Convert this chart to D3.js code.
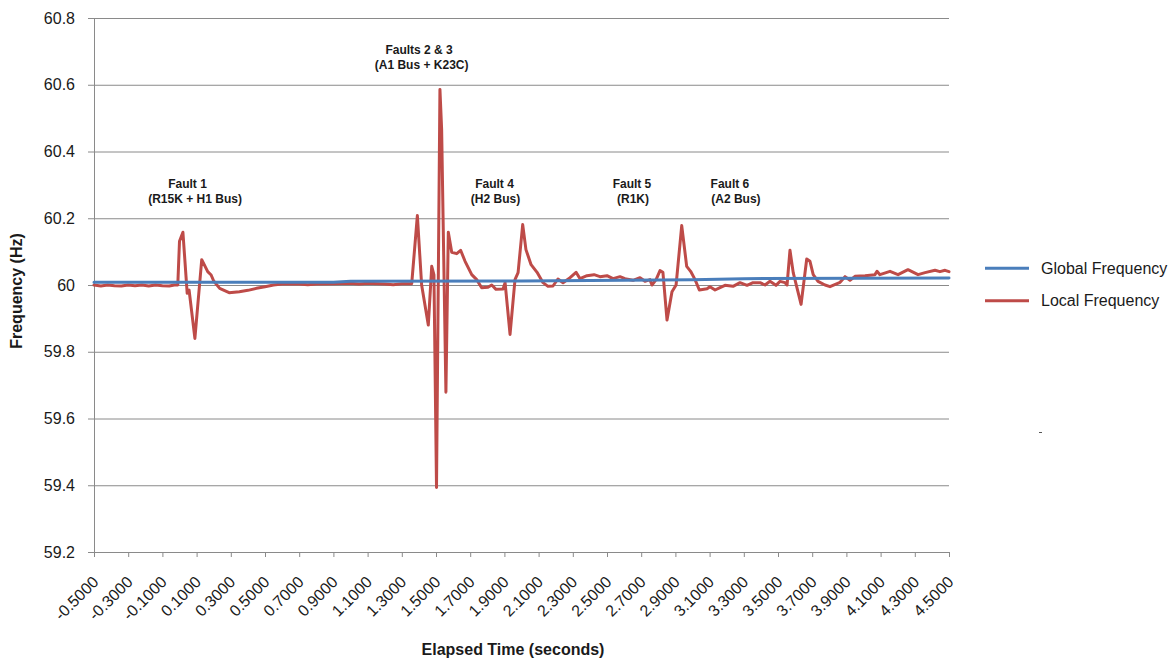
<!DOCTYPE html>
<html>
<head>
<meta charset="utf-8">
<script src="https://cdn.jsdelivr.net/npm/d3@7"></script>
<style>
  body { margin: 0; background: #fff; }
  svg { display: block; font-family: "Liberation Sans", Arial, sans-serif; }
</style>
</head>
<body>
<svg id="chart" width="1170" height="660"></svg>
<script>
// ---------------- DATA ----------------
const xTickLabels = ["-0.5000","-0.3000","-0.1000","0.1000","0.3000","0.5000","0.7000","0.9000","1.1000","1.3000","1.5000","1.7000","1.9000","2.1000","2.3000","2.5000","2.7000","2.9000","3.1000","3.3000","3.5000","3.7000","3.9000","4.1000","4.3000","4.5000"];
const yTickLabels = ["59.2","59.4","59.6","59.8","60","60.2","60.4","60.6","60.8"];

const globalTimes = [-0.5, 0.9, 1.0, 2.0, 2.2, 3.0, 3.3, 4.0, 4.5];
const globalFreq  = [60.008, 60.008, 60.011, 60.012, 60.013, 60.016, 60.019, 60.020, 60.021];

const localTimes = [-0.50,-0.46,-0.42,-0.38,-0.34,-0.30,-0.26,-0.22,-0.18,-0.14,-0.10,-0.06,-0.03,-0.01,
  0.00,0.02,0.045,0.056,0.09,0.13,0.165,0.185,0.20,0.235,0.29,0.35,0.40,0.45,0.50,0.55,0.60,0.70,0.75,0.80,0.90,
  1.00,1.05,1.10,1.20,1.25,1.30,1.358,1.391,1.416,1.455,1.475,1.488,1.503,1.523,1.533,1.558,1.572,1.592,1.621,1.644,
  1.670,1.709,1.738,1.767,1.804,1.826,1.851,1.892,1.904,1.933,1.962,1.980,2.007,2.026,2.056,2.091,2.126,2.155,2.184,
  2.213,2.243,2.284,2.319,2.342,2.383,2.424,2.459,2.500,2.535,2.576,2.605,2.652,2.693,2.722,2.751,2.763,2.787,2.810,
  2.827,2.851,2.880,2.904,2.937,2.966,2.989,3.015,3.040,3.085,3.102,3.132,3.161,3.190,3.237,3.278,3.319,3.354,3.395,
  3.424,3.453,3.488,3.512,3.541,3.553,3.570,3.589,3.635,3.668,3.687,3.706,3.734,3.775,3.804,3.863,3.892,3.921,3.950,
  4.009,4.067,4.079,4.096,4.155,4.202,4.260,4.319,4.360,4.418,4.447,4.477,4.500];
const localFreq = [60.000,59.997,60.000,59.998,59.997,60.000,59.998,60.000,59.997,60.000,59.998,59.997,60.000,60.000,
  60.131,60.158,59.975,59.985,59.840,60.076,60.040,60.030,60.012,59.990,59.977,59.980,59.984,59.990,59.995,60.000,60.003,60.003,60.001,60.003,60.004,
  60.005,60.003,60.005,60.003,60.001,60.004,60.004,60.208,60.000,59.880,60.056,60.030,59.393,60.586,60.466,59.679,60.158,60.098,60.094,60.104,
  60.071,60.031,60.016,59.992,59.993,60.000,59.987,59.988,60.007,59.852,60.016,60.037,60.181,60.106,60.061,60.038,60.007,59.996,59.997,
  60.018,60.007,60.022,60.038,60.019,60.028,60.031,60.025,60.028,60.019,60.025,60.019,60.014,60.022,60.011,60.016,60.000,60.016,60.043,
  60.038,59.895,59.980,60.000,60.178,60.056,60.041,60.016,59.985,59.989,59.995,59.985,59.992,59.999,59.996,60.007,59.999,60.007,60.007,
  60.000,60.011,59.999,60.011,60.007,60.000,60.104,60.037,59.942,60.078,60.071,60.031,60.011,60.000,59.995,60.008,60.025,60.014,60.026,
  60.028,60.031,60.041,60.031,60.041,60.031,60.046,60.031,60.037,60.044,60.040,60.044,60.040];

const seriesNames = ["Global Frequency", "Local Frequency"];
const seriesColors = ["#4A7EBB", "#BE4B48"];

// annotation lines: text, time anchor, frequency of baseline
const annotationLines = [
  {text: "Fault 1", t: 0.047, f: 60.292},
  {text: "(R15K + H1 Bus)", t: 0.091, f: 60.247},
  {text: "Faults 2 & 3", t: 1.401, f: 60.691},
  {text: "(A1 Bus + K23C)", t: 1.416, f: 60.646},
  {text: "Fault 4", t: 1.842, f: 60.292},
  {text: "(H2 Bus)", t: 1.848, f: 60.247},
  {text: "Fault 5", t: 2.646, f: 60.292},
  {text: "(R1K)", t: 2.652, f: 60.247},
  {text: "Fault 6", t: 3.219, f: 60.292},
  {text: "(A2 Bus)", t: 3.254, f: 60.247}
];

// ---------------- CHART ----------------
const svg = d3.select("#chart");
const L = 94, R = 949, T = 18, B = 552;
const gridColor = "#8a8a8a";
const textColor = "#1a1a1a";

const x = d3.scaleLinear().domain([-0.5, 4.5]).range([L, R]);
const y = d3.scaleLinear().domain([59.2, 60.8]).range([B, T]);

const yTicks = yTickLabels.map(Number);
const xTicks = xTickLabels.map(Number);

// horizontal gridlines
const grid = svg.append("g").attr("transform", `translate(${L},0)`)
  .call(d3.axisLeft(y).tickValues(yTicks).tickSize(-(R - L)).tickFormat(""));
grid.select(".domain").remove();
grid.selectAll("line").attr("stroke", gridColor).attr("stroke-width", 1);

// y axis
const yAxis = svg.append("g").attr("transform", `translate(${L},0)`)
  .call(d3.axisLeft(y).tickValues(yTicks).tickSize(6).tickSizeOuter(0).tickPadding(13)
    .tickFormat((d, i) => yTickLabels[i]));
yAxis.select(".domain").attr("stroke", gridColor);
yAxis.selectAll("line").attr("stroke", gridColor);
yAxis.selectAll("text").attr("font-size", 16).attr("fill", textColor)
  .attr("font-family", "Liberation Sans, Arial, sans-serif");

// x axis
const xAxis = svg.append("g").attr("transform", `translate(0,${B})`)
  .call(d3.axisBottom(x).tickValues(xTicks).tickSize(5).tickSizeOuter(0)
    .tickFormat((d, i) => xTickLabels[i]));
xAxis.select(".domain").attr("stroke", gridColor);
xAxis.selectAll("line").attr("stroke", gridColor);
xAxis.selectAll("text")
  .attr("font-size", 16).attr("fill", textColor)
  .attr("font-family", "Liberation Sans, Arial, sans-serif")
  .attr("x", 0).attr("y", 0).attr("dy", 0)
  .attr("text-anchor", "end")
  .attr("transform", "translate(5,31) rotate(-45)");

// lines
const line = d3.line().x(d => x(d[0])).y(d => y(d[1])).curve(d3.curveLinear);
const localData = localTimes.map((t, i) => [t, localFreq[i]]);
const globalData = globalTimes.map((t, i) => [t, globalFreq[i]]);

svg.append("path").datum(localData).attr("d", line)
  .attr("fill", "none").attr("stroke", seriesColors[1]).attr("stroke-width", 3)
  .attr("stroke-linejoin", "round").attr("stroke-linecap", "round");
svg.append("path").datum(globalData).attr("d", line)
  .attr("fill", "none").attr("stroke", seriesColors[0]).attr("stroke-width", 3)
  .attr("stroke-linejoin", "round").attr("stroke-linecap", "round");

// annotations
svg.append("g").selectAll("text").data(annotationLines).join("text")
  .attr("x", d => x(d.t)).attr("y", d => y(d.f))
  .attr("text-anchor", "middle").attr("font-size", 12).attr("font-weight", "bold")
  .attr("fill", textColor).text(d => d.text);

// axis titles
svg.append("text").attr("x", 513).attr("y", 655).attr("text-anchor", "middle")
  .attr("font-size", 16).attr("font-weight", "bold").attr("fill", textColor)
  .text("Elapsed Time (seconds)");
svg.append("text").attr("transform", "translate(22,291) rotate(-90)").attr("text-anchor", "middle")
  .attr("font-size", 16).attr("font-weight", "bold").attr("fill", textColor)
  .text("Frequency (Hz)");

// legend
const legend = svg.append("g").selectAll("g").data(seriesNames).join("g")
  .attr("transform", (d, i) => `translate(985,${268.3 + i * 32.4})`);
legend.append("line").attr("x1", 0).attr("x2", 44).attr("y1", 0).attr("y2", 0)
  .attr("stroke", (d, i) => seriesColors[i]).attr("stroke-width", 3);
legend.append("text").attr("x", 56).attr("y", 5.5).attr("font-size", 16)
  .attr("fill", textColor).text(d => d);

// small stray mark in the original
svg.append("line").attr("x1", 1039).attr("x2", 1042).attr("y1", 432.5).attr("y2", 432.5)
  .attr("stroke", "#555").attr("stroke-width", 1);
</script>
</body>
</html>
